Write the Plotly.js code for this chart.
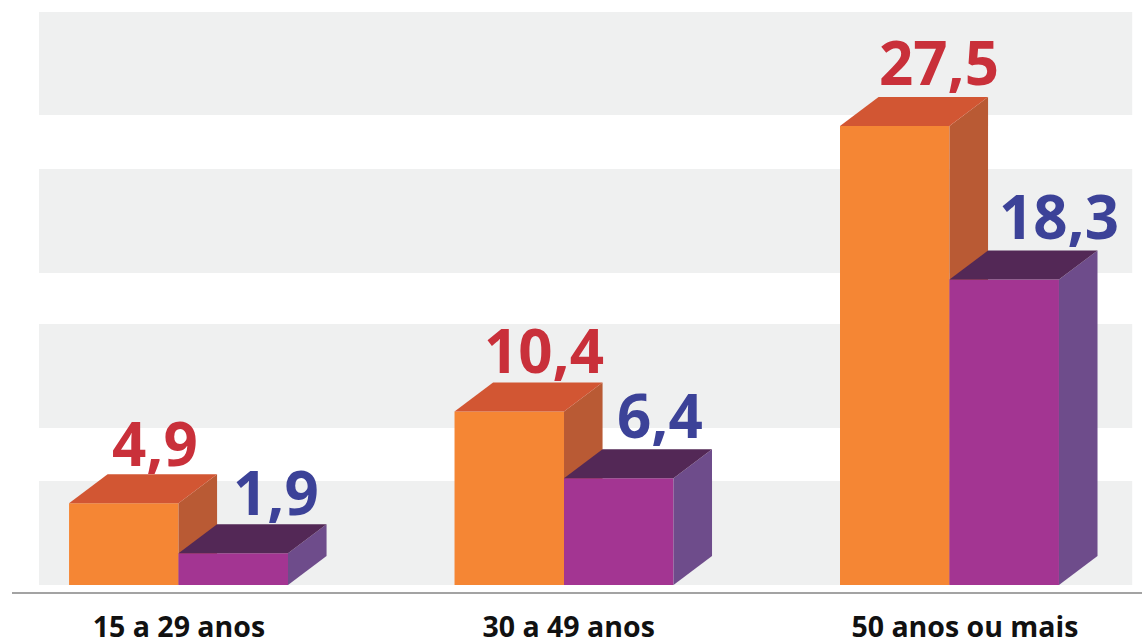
<!DOCTYPE html>
<html><head><meta charset="utf-8">
<script src="https://cdn.plot.ly/plotly-3.0.1.min.js"></script>
<style>html,body{margin:0;padding:0;background:#fff;overflow:hidden}#c{width:1142px;height:642px}</style>
</head><body><div id="c"></div>
<script>
const categories = ["15 a 29 anos", "30 a 49 anos", "50 anos ou mais"];
const orangeValues = [4.9, 10.4, 27.5];
const purpleValues = [1.9, 6.4, 18.3];
const orangeLabels = ["4,9", "10,4", "27,5"];
const purpleLabels = ["1,9", "6,4", "18,3"];
const groupPositions = [0, 1, 2];
const tickPositions = [0.001, 1.012, 2.04];
const orangeLabelX = [-0.06, 0.948, 1.972];
const purpleLabelX = [0.252, 1.249, 2.284];
const orangeLabelLift = [-4, -3, 0];
const purpleLabelLift = [-3, -1, 0];
const bandEdges = [[0, 6.23], [9.41, 15.64], [18.69, 24.93], [28.16, 34.33]];

const barW = 0.284, depthX = 0.1, depthY = 1.74;
const xRange = [-0.432, 2.4994], yRange = [-0.419, 35.05];

function faces(vals, xa, ya, offset, topColor, sideColor) {
  const out = [];
  vals.forEach((v, i) => {
    const l = groupPositions[i] + offset, r = l + barW;
    out.push({type:'scatter', mode:'none', fill:'toself', fillcolor:sideColor, xaxis:xa, yaxis:ya, hoverinfo:'skip',
      x:[r, r+depthX, r+depthX, r, r], y:[0, depthY, v+depthY, v, 0]});
    out.push({type:'scatter', mode:'none', fill:'toself', fillcolor:topColor, xaxis:xa, yaxis:ya, hoverinfo:'skip',
      x:[l, l+depthX, r+depthX, r, l], y:[v, v+depthY, v+depthY, v, v]});
  });
  return out;
}
const bar = (vals, xa, ya, offset, color) => ({type:'bar', xaxis:xa, yaxis:ya, hoverinfo:'skip',
  x:groupPositions.map(g => g + offset + barW/2), y:vals, width:barW, marker:{color:color, line:{width:0}}});

const traces = [
  bar(orangeValues, 'x', 'y', -barW, '#F58634'),
  ...faces(orangeValues, 'x', 'y', -barW, '#D25633', '#B95A34'),
  bar(purpleValues, 'x2', 'y2', 0, '#A33592'),
  ...faces(purpleValues, 'x2', 'y2', 0, '#532856', '#6E4C8B')
];
const labelFont = c => ({family:'"Open Sans", sans-serif', size:60, color:c, weight:700});
const ann = (x, v, t, c, lift) => ({xref:'x2', yref:'y2', x:x, y:v+depthY, text:t, showarrow:false, xanchor:'center', yanchor:'bottom',
  yshift:-7 + lift, font:labelFont(c), borderpad:0});
const layout = {
  width:1142, height:642, margin:{l:12, r:0, t:0, b:50}, paper_bgcolor:'#fff', plot_bgcolor:'#fff', showlegend:false, barmode:'overlay',
  xaxis:{range:xRange, tickmode:'array', tickvals:tickPositions, ticktext:categories, showgrid:false, zeroline:false,
    showline:true, linecolor:'#A3A3A3', linewidth:2, ticks:'', ticklabelstandoff:9, fixedrange:true,
    tickfont:{family:'"Open Sans", sans-serif', size:28.5, color:'#111', weight:700}},
  yaxis:{range:yRange, visible:false, fixedrange:true},
  xaxis2:{range:xRange, overlaying:'x', visible:false, fixedrange:true},
  yaxis2:{range:yRange, overlaying:'y', visible:false, fixedrange:true},
  shapes:bandEdges.map(b => ({type:'rect', layer:'below', xref:'x', yref:'y', x0:-0.362, x1:2.474, y0:b[0], y1:b[1], fillcolor:'#EFF0F0', line:{width:0}})),
  annotations:[
    ...orangeLabels.map((t,i) => ann(orangeLabelX[i], orangeValues[i], t, '#C9303A', orangeLabelLift[i])),
    ...purpleLabels.map((t,i) => ann(purpleLabelX[i], purpleValues[i], t, '#3C4298', purpleLabelLift[i]))
  ]
};
Plotly.newPlot('c', traces, layout, {displayModeBar:false, staticPlot:true});
</script></body></html>
